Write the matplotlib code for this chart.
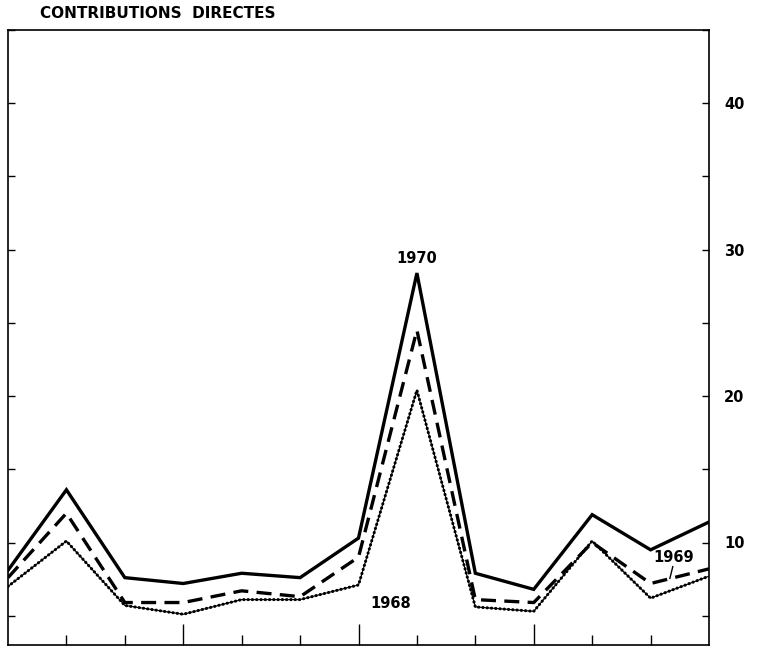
import matplotlib
matplotlib.use("Agg")
import matplotlib.pyplot as plt
from matplotlib.ticker import MultipleLocator

# valeurs par poste, trois années
positions = list(range(13))
serie_1970 = [8.1, 13.6, 7.6, 7.2, 7.9, 7.6, 10.3, 28.4, 7.9, 6.8, 11.9, 9.5, 11.4]
serie_1969 = [7.6, 12.0, 5.9, 5.9, 6.7, 6.3, 9.0, 24.5, 6.1, 5.9, 10.0, 7.2, 8.2]
serie_1968 = [7.0, 10.1, 5.7, 5.1, 6.1, 6.1, 7.1, 20.4, 5.6, 5.3, 10.1, 6.2, 7.7]
graduations = [10, 20, 30, 40]

fig = plt.figure(figsize=(7.57, 6.49), dpi=100)
ax = fig.add_axes([8 / 757, 4 / 649, 701 / 757, 615 / 649])

ax.plot(positions, serie_1970, color="black", lw=2.4, solid_joinstyle="miter")
ax.plot(positions, serie_1969, color="black", lw=2.4, linestyle=(0, (4.5, 2.5)))
# 1968 : trait fin perlé
ax.plot(positions, serie_1968, color="black", lw=0.8)
ax.plot(positions, serie_1968, color="black", lw=2.2, linestyle=(0, (0.1, 1.3)),
        dash_capstyle="round")

ax.set_xlim(0, 12)
ax.set_ylim(3, 45)

# graduations en x : longues tous les trois postes
ax.set_xticks([1, 2, 4, 5, 7, 8, 10, 11])
ax.set_xticks([3, 6, 9], minor=True)
ax.tick_params(axis="x", which="major", direction="in", length=7, width=1,
               labelbottom=False)
ax.tick_params(axis="x", which="minor", direction="in", length=15, width=1,
               labelbottom=False)

ax.yaxis.set_major_locator(MultipleLocator(10))
ax.yaxis.set_minor_locator(MultipleLocator(5))
ax.set_yticks(graduations)
ax.tick_params(axis="y", which="both", direction="in", length=5, width=1,
               left=True, right=True, labelleft=False, labelright=True,
               labelsize=10.5, pad=11)
for lab in ax.get_yticklabels():
    lab.set_fontweight("semibold")

for sp in ax.spines.values():
    sp.set_linewidth(1.2)

annot = dict(fontsize=10.5, fontweight="semibold")
ax.text(7, 29.4, "1970", ha="center", va="center", **annot)
ax.text(6.55, 5.8, "1968", ha="center", va="center", **annot)
ax.text(11.4, 9.0, "1969", ha="center", va="center", **annot)
ax.plot([11.38, 11.33], [8.35, 7.55], color="black", lw=1)

fig.text(40 / 757, 1 - 13 / 649, "CONTRIBUTIONS  DIRECTES", ha="left", va="center",
         fontsize=11, fontweight="bold")

fig.savefig("out.png", dpi=100)
